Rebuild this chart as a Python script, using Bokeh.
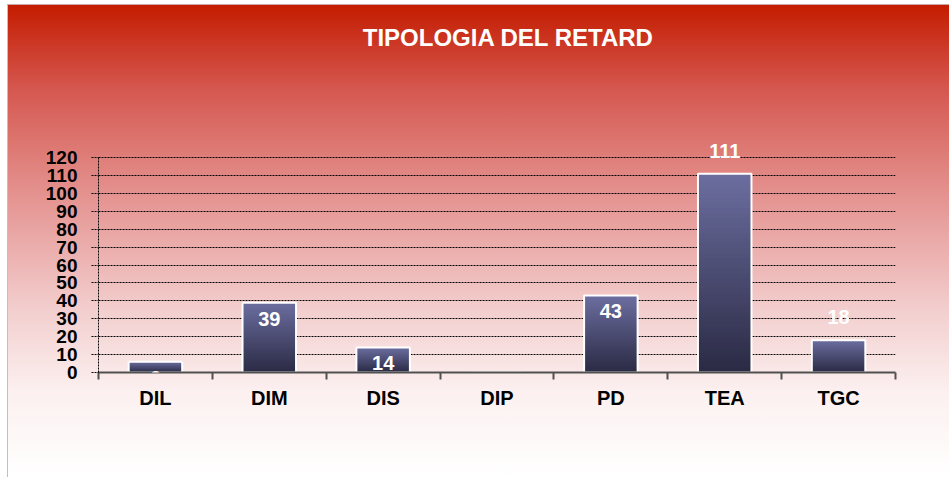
import numpy as np
from bokeh.plotting import figure
from bokeh.core.properties import value
from bokeh.models import FixedTicker, Label, ColumnDataSource, LabelSet
from bokeh.embed import file_html
from bokeh.resources import INLINE

# ---- data ----
title_text = "TIPOLOGIA DEL RETARD"
categories = ["DIL", "DIM", "DIS", "DIP", "PD", "TEA", "TGC"]
values = [6, 39, 14, 0, 43, 111, 18]
label_place = ["inside", "inside", "inside", "inside", "inside", "above", "above"]
y_ticks = [0, 10, 20, 30, 40, 50, 60, 70, 80, 90, 100, 110, 120]

FONT = "Liberation Sans"
n = len(categories)
xs = list(range(n))

# layout (pixels): frame bottom 372, y=120 gridline at 157, frame top 10
W, H = 949, 477
f_left, f_right, f_bottom, f_top, grid_top = 98, 895, 372, 10, 157
y_end = y_ticks[-1] * (f_bottom - f_top) / (f_bottom - grid_top)

p = figure(width=W, height=H, output_backend="svg", toolbar_location=None,
           x_range=(-0.5, n - 0.5), y_range=(0, y_end),
           min_border_left=f_left, min_border_right=W - f_right,
           min_border_top=f_top, min_border_bottom=H - f_bottom)
p.background_fill_alpha = 0
p.border_fill_alpha = 0
p.outline_line_color = None
p.styles = {
    "background-image": ("linear-gradient(#c8a8a8,#c8a8a8), linear-gradient(#c0c0c0,#c0c0c0), "
                         "linear-gradient(to bottom, #c41c00 0%, #d55850 18%, #e4928f 40%, "
                         "#f3cfcf 65%, #fcf0f0 82%, #ffffff 100%)"),
    "background-repeat": "no-repeat",
    "background-position": "7px 4px, 7px 4px, 8px 5px",
    "background-size": "942px 1px, 1px 473px, 941px 472px",
}

# ---- bars with vertical gradient (stacked overlapping slices) ----
dark = np.array([42, 42, 68])
light = np.array([108, 110, 160])
N = 40
bx, bb, bt, bc = [], [], [], []
for i, v in enumerate(values):
    for k in range(N):
        t = (k + 0.5) / N
        c = dark + (light - dark) * t
        bx.append(xs[i])
        bb.append(v * k / N)
        bt.append(v)
        bc.append("#%02x%02x%02x" % tuple(int(round(u)) for u in c))
p.vbar(x=bx, bottom=bb, top=bt, width=0.47, fill_color=bc, line_color=None)
p.vbar(x=xs, bottom=0, top=values, width=0.47, fill_color=None,
       line_color="white", line_width=2)

# ---- value labels ----
offs = [-16 if pl == "inside" else 23 for pl in label_place]
src = ColumnDataSource(dict(x=xs, y=values, t=[str(v) for v in values], o=offs))
p.add_layout(LabelSet(x="x", y="y", text="t", y_offset="o", source=src,
                      text_color="white", text_font=value(FONT), text_font_style="bold",
                      text_font_size="20px", text_align="center",
                      text_baseline="middle"))

# ---- axes ----
p.xgrid.visible = False
p.ygrid.grid_line_color = "black"
p.ygrid.grid_line_dash = "2 1"
p.ygrid.grid_line_width = 1

ya = p.yaxis[0]
ya.ticker = FixedTicker(ticks=y_ticks)
ya.bounds = (y_ticks[0], y_ticks[-1])
ya.axis_line_color = "black"
ya.axis_line_dash = "2 1"
ya.major_tick_line_color = "black"
ya.major_tick_line_dash = "2 1"
ya.major_tick_out = 7
ya.major_tick_in = 0
ya.minor_tick_line_color = None
ya.major_label_standoff = 14
ya.major_label_text_font = FONT
ya.major_label_text_font_style = "bold"
ya.major_label_text_font_size = "19px"
ya.major_label_text_color = "black"

xa = p.xaxis[0]
xa.ticker = FixedTicker(ticks=xs, minor_ticks=[i - 0.5 for i in range(n + 1)])
xa.major_label_overrides = {i: c for i, c in enumerate(categories)}
xa.axis_line_color = "#505050"
xa.axis_line_width = 2
xa.major_tick_line_color = None
xa.major_tick_out = 0
xa.major_tick_in = 0
xa.minor_tick_line_color = "#505050"
xa.minor_tick_line_width = 2
xa.minor_tick_out = 7
xa.minor_tick_in = 0
xa.major_label_standoff = 7
xa.major_label_text_font = FONT
xa.major_label_text_font_style = "bold"
xa.major_label_text_font_size = "20px"
xa.major_label_text_color = "black"

# ---- title ----
p.add_layout(Label(x=508 - f_left, y=f_bottom - 37, x_units="screen", y_units="screen",
                   text=title_text, text_color="white", text_font=FONT,
                   text_font_style="bold", text_font_size="24px",
                   text_align="center", text_baseline="middle"))

open("out.html", "w").write(file_html(p, INLINE))
